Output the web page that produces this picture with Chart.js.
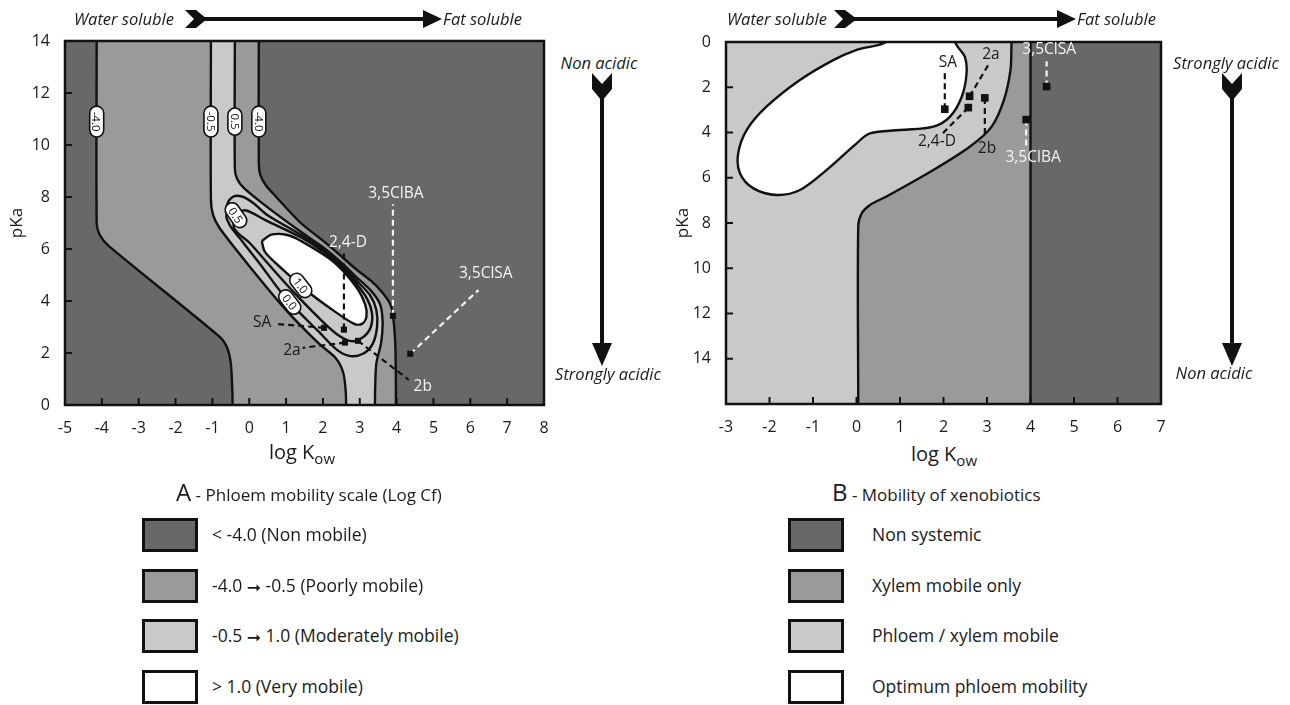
<!DOCTYPE html>
<html lang="en">
<head>
<meta charset="utf-8">
<title>Phloem mobility of xenobiotics</title>
<script src="https://cdn.jsdelivr.net/npm/chart.js@4.4.1/dist/chart.umd.min.js"></script>
<style>
  body { margin: 0; background: #fff; }
  #page { position: relative; width: 1290px; height: 705px; overflow: hidden;
          font-family: 'Open Sans', 'Noto Sans', sans-serif; color: #1a1a1a; }
  canvas, svg { position: absolute; top: 0; }
  .txt { position: absolute; white-space: nowrap; line-height: 1; transform: translateY(-50%); }
  .mid { transform: translate(-50%, -50%); }
  .it { font-style: italic; font-size: 16.5px; }
  .ax { font-size: 20px; }
  .ax sub { font-size: 15px; vertical-align: -5px; line-height: 0; }
  .cap { font-size: 17px; }
  .cap span { font-size: 24px; }
  .key { position: absolute; width: 50px; height: 28px; border: 3px solid #111; }
  .lbl { font-size: 17.5px; }
  .arr { font-family: 'DejaVu Sans', sans-serif; font-size: 17px; font-weight: bold; vertical-align: -1px; }
</style>
</head>
<body>
<div id="page">
  <svg width="1290" height="705" style="left:0">
    <g fill="#111">
      <!-- panel A arrows -->
      <polygon points="185,10 196,10 207,19 196,28 185,28 194,19"/>
      <rect x="200" y="17" width="226" height="4"/>
      <polygon points="423,10 442,19 423,28"/>
      <polygon points="592,73 602,84 612,73 612,89 602,101 592,89"/>
      <rect x="600" y="95" width="4" height="250"/>
      <polygon points="592,343 612,343 602,366"/>
      <!-- panel B arrows -->
      <polygon points="834,10 845,10 857,19 845,28 834,28 843,19"/>
      <rect x="850" y="17" width="210" height="4"/>
      <polygon points="1057,10 1076,19 1057,28"/>
      <polygon points="1222,73 1232,84 1242,73 1242,89 1232,101 1222,89"/>
      <rect x="1230" y="95" width="4" height="250"/>
      <polygon points="1222,343 1242,343 1232,366"/>
    </g>
  </svg>

  <canvas id="chartA" width="560" height="440" style="left:0"></canvas>
  <canvas id="chartB" width="520" height="440" style="left:660px"></canvas>

  <div class="txt it" style="left:74px; top:19px">Water soluble</div>
  <div class="txt it" style="left:443px; top:19px">Fat soluble</div>
  <div class="txt it" style="left:727px; top:19px">Water soluble</div>
  <div class="txt it" style="left:1077px; top:19px">Fat soluble</div>
  <div class="txt it mid" style="left:599px; top:63px">Non acidic</div>
  <div class="txt it mid" style="left:608px; top:374px">Strongly acidic</div>
  <div class="txt it mid" style="left:1226px; top:63px">Strongly acidic</div>
  <div class="txt it mid" style="left:1214px; top:373px">Non acidic</div>

  <div class="txt ax mid" style="left:302px; top:452px">log K<sub>ow</sub></div>
  <div class="txt ax mid" style="left:944px; top:454px">log K<sub>ow</sub></div>

  <div class="txt cap" style="left:176px; top:492px"><span>A</span> - Phloem mobility scale (Log Cf)</div>
  <div class="txt cap" style="left:832px; top:492px"><span>B</span> - Mobility of xenobiotics</div>

  <div id="keysA"></div>
  <div id="keysB"></div>
</div>

<script>
// compounds shown on both panels
const compounds = ['SA', '2,4-D', '2a', '2b', '3,5ClBA', '3,5ClSA'];
const logKow = [2.03, 2.57, 2.6, 2.95, 3.9, 4.37];
const pKa = [2.97, 2.9, 2.4, 2.47, 3.43, 1.97];

// tick labels
const xTicksA = [-5, -4, -3, -2, -1, 0, 1, 2, 3, 4, 5, 6, 7, 8];
const yTicksA = [0, 2, 4, 6, 8, 10, 12, 14];
const xTicksB = [-3, -2, -1, 0, 1, 2, 3, 4, 5, 6, 7];
const yTicksB = [0, 2, 4, 6, 8, 10, 12, 14];

// legend entries (the arrow is marked with |)
const keysA = ['< -4.0 (Non mobile)', '-4.0 | -0.5 (Poorly mobile)',
               '-0.5 |  1.0 (Moderately mobile)', '> 1.0 (Very mobile)'];
const keysB = ['Non systemic', 'Xylem mobile only', 'Phloem / xylem mobile', 'Optimum phloem mobility'];

// panel A contours, [log Kow, pKa]
const cfNeg4Left = [[-4.14, 16], [-4.14, 14], [-4.14, 7.0], [-4.06, 6.55], [-3.8, 6.1], [-0.8, 2.62],
  [-0.6, 2.2], [-0.5, 1.6], [-0.46, 0.6], [-0.45, -0.3], [-0.45, -2]];
const cfNeg4Right = [[0.26, 16], [0.26, 14], [0.26, 9.3], [0.3, 8.85], [0.45, 8.45], [0.7, 8.05],
  [1.4, 7.0], [2.0, 6.32], [2.5, 5.72], [2.9, 5.22], [3.3, 4.78], [3.6, 4.35], [3.82, 3.9],
  [3.9, 3.45], [3.96, 2.5], [3.98, 1.0], [3.98, -0.3], [3.98, -2]];
const cfNeg05Left = [[-1.04, 16], [-1.04, 14], [-1.04, 7.9], [-0.98, 7.3], [-0.8, 6.8], [0.0, 5.35],
  [1.0, 3.65], [1.9, 2.35], [2.35, 1.8], [2.55, 1.25], [2.62, 0.5], [2.63, -0.3], [2.63, -2]];
const cfNeg05Right = [[-0.39, 16], [-0.39, 14], [-0.39, 9.1], [-0.33, 8.7], [-0.15, 8.35], [0.5, 7.6],
  [1.4, 6.66], [2.0, 6.07], [2.5, 5.48], [2.9, 4.93], [3.3, 4.4], [3.55, 3.88], [3.62, 3.2],
  [3.58, 2.4], [3.45, 1.6], [3.42, 0.8], [3.41, -0.3], [3.41, -2]];
const cf00 = [[-0.62, 7.2], [-0.6, 7.7], [-0.45, 8.0], [-0.2, 8.02], [0.1, 7.78], [0.5, 7.3], [1.4, 6.55],
  [2.0, 5.98], [2.5, 5.38], [2.9, 4.8], [3.28, 4.22], [3.45, 3.65], [3.47, 3.0], [3.35, 2.35], [3.1, 1.98],
  [2.75, 1.88], [2.4, 2.1], [1.9, 2.8], [1.0, 4.1], [0.25, 5.5], [-0.25, 6.4], [-0.5, 6.85], [-0.62, 7.2]];
const cf05 = [[-0.42, 6.8], [-0.42, 7.15], [-0.3, 7.4], [-0.08, 7.48], [0.45, 7.1], [1.4, 6.45],
  [2.0, 5.9], [2.5, 5.3], [2.9, 4.68], [3.2, 4.08], [3.33, 3.55], [3.3, 3.0], [3.1, 2.62], [2.8, 2.45],
  [2.45, 2.65], [2.0, 3.2], [1.2, 4.35], [0.5, 5.45], [0.0, 6.25], [-0.3, 6.6], [-0.42, 6.8]];
const cf10 = [[0.34, 6.3], [0.6, 6.55], [1.0, 6.55], [1.38, 6.33], [2.28, 5.52], [2.9, 4.55], [3.15, 3.85],
  [3.18, 3.38], [3.06, 3.12], [2.85, 3.12], [2.3, 3.62], [1.65, 4.3], [0.92, 5.2], [0.43, 5.88], [0.34, 6.3]];

// panel B zone boundaries
const xylemLimit = [[-4, -3], [4, -3], [4, 18], [-4, 18]];
const phloemLimit = [[-4, -3], [3.57, -3], [3.57, -1], [3.56, 0.3], [3.54, 1.24], [3.39, 2.56], [3.107, 3.74],
  [2.61, 4.62], [1.766, 5.66], [0.69, 6.83], [0.31, 7.2], [0.12, 7.57], [0.04, 8.16], [0.04, 16], [0.04, 18], [-4, 18]];
const optimumZone = [[1.2, -1.5], [0.75, -0.08], [0.004, 0.35], [-0.533, 0.8], [-1.3, 1.68], [-2.07, 2.86],
  [-2.525, 3.89], [-2.72, 4.92], [-2.68, 5.8], [-2.37, 6.47], [-1.835, 6.76], [-1.3, 6.54], [-0.69, 5.66],
  [0.004, 4.48], [0.31, 4.04], [1.0, 3.89], [1.77, 3.74], [2.15, 3.3], [2.42, 2.42], [2.53, 1.38],
  [2.49, 0.65], [2.3, 0.13], [1.9, -1.5]];

// contour value tags on panel A: text, log Kow, pKa, rotation
const tagsA = [['-4.0', -4.14, 10.9, 90], ['-0.5', -1.04, 10.9, 90], ['0.5', -0.39, 10.9, 90],
  ['-4.0', 0.26, 10.9, 90], ['0.5', -0.36, 7.3, 55], ['1.0', 1.4, 4.6, 52], ['0.0', 1.1, 3.96, 52]];

// compound name anchors and leader ends
const nameAtA = [[0.35, 3.18], [2.68, 6.25], [1.16, 2.11], [4.71, 0.69], [3.98, 8.13], [6.42, 5.06]];
const leaderToA = [[0.72, 3.12], [2.57, 5.92], [1.45, 2.2], [4.33, 0.97], [3.9, 7.72], [6.22, 4.42]];
const nameAtB = [[2.1, 0.93], [1.85, 4.42], [3.09, 0.57], [3.0, 4.72], [4.06, 5.13], [4.43, 0.35]];
const leaderToB = [[2.03, 1.35], [1.95, 4.1], [3.05, 0.95], [2.95, 4.2], [3.9, 4.75], [4.37, 0.85]];

const DARK = '#686868', MID = '#9a9a9a', LIGHT = '#c9c9c9', WHITE = '#ffffff', INK = '#111111';
const FONT = "'Open Sans', 'Noto Sans', sans-serif";
const whiteLeaders = ['3,5ClBA', '3,5ClSA'];

const toXY = arr => arr.map(([x, y]) => ({ x, y }));

function zone(points, color, tension) {
  return { data: toXY(points), fill: 'shape', backgroundColor: color, borderColor: INK, borderWidth: 2.4, tension };
}
function isoline(points, tension) {
  return { data: toXY(points), fill: false, borderColor: INK, borderWidth: 2.4, tension };
}
function leaderSets(ends) {
  return compounds.map((name, i) => ({
    data: [{ x: logKow[i], y: pKa[i] }, { x: ends[i][0], y: ends[i][1] }],
    fill: false, borderWidth: 2.2, borderDash: [6, 4],
    borderColor: whiteLeaders.includes(name) ? '#f4f4f4' : INK
  }));
}
function compoundSet(r) {
  return {
    data: logKow.map((x, i) => ({ x, y: pKa[i] })),
    showLine: false, pointStyle: 'rect', pointRadius: r,
    pointBackgroundColor: INK, pointBorderWidth: 0
  };
}

function panelPlugin(p) {
  return {
    id: 'panel',
    beforeDatasetsDraw(chart) {
      const { ctx, chartArea: a } = chart;
      ctx.save();
      ctx.fillStyle = DARK;
      ctx.fillRect(a.left, a.top, a.width, a.height);
      ctx.restore();
    },
    afterDatasetsDraw(chart) {
      const { ctx, chartArea: a, scales: { x, y } } = chart;
      ctx.save();
      // tick marks point into the plot
      ctx.strokeStyle = INK;
      ctx.lineWidth = 2;
      p.xTicks.forEach(v => {
        const px = x.getPixelForValue(v);
        if (px <= a.left + 1 || px >= a.right - 1) return;
        ctx.beginPath(); ctx.moveTo(px, a.bottom); ctx.lineTo(px, a.bottom - 7); ctx.stroke();
      });
      p.yTicks.forEach(v => {
        const py = y.getPixelForValue(v);
        if (py <= a.top + 1 || py >= a.bottom - 1) return;
        ctx.beginPath(); ctx.moveTo(a.left, py); ctx.lineTo(a.left + 7, py); ctx.stroke();
      });
      ctx.lineWidth = 2.5;
      ctx.strokeRect(a.left, a.top, a.width, a.height);

      // contour value tags
      ctx.font = '11.5px ' + FONT;
      ctx.textAlign = 'center';
      ctx.textBaseline = 'middle';
      (p.tags || []).forEach(([text, vx, vy, rot]) => {
        ctx.save();
        ctx.translate(x.getPixelForValue(vx), y.getPixelForValue(vy));
        ctx.rotate(rot * Math.PI / 180);
        const w = ctx.measureText(text).width + 11, h = 14;
        ctx.beginPath();
        ctx.roundRect(-w / 2, -h / 2, w, h, h / 2);
        ctx.fillStyle = WHITE; ctx.fill();
        ctx.lineWidth = 1.6; ctx.strokeStyle = INK; ctx.stroke();
        ctx.fillStyle = INK;
        ctx.fillText(text, 0, 1);
        ctx.restore();
      });

      // compound names
      ctx.font = '15.5px ' + FONT;
      compounds.forEach((name, i) => {
        ctx.fillStyle = p.whiteNames.includes(name) ? '#f4f4f4' : '#1a1a1a';
        ctx.fillText(name, x.getPixelForValue(p.nameAt[i][0]), y.getPixelForValue(p.nameAt[i][1]));
      });
      ctx.restore();
    }
  };
}

function buildChart(id, p) {
  const tickFont = { family: FONT, size: 16 };
  return new Chart(document.getElementById(id), {
    type: 'line',
    data: {
      datasets: p.datasets.map((d, i, all) => Object.assign({ order: all.length - i, pointRadius: 0 }, d))
    },
    options: {
      responsive: false,
      animation: false,
      devicePixelRatio: 1,
      events: [],
      layout: { padding: p.padding },
      elements: { line: { capBezierPoints: false } },
      plugins: { legend: { display: false }, tooltip: { enabled: false } },
      scales: {
        x: {
          type: 'linear', min: p.xTicks[0], max: p.xTicks[p.xTicks.length - 1],
          grid: { display: false }, border: { display: false },
          ticks: { font: tickFont, color: '#1a1a1a', padding: 6, autoSkip: false, maxRotation: 0 },
          afterBuildTicks: s => { s.ticks = p.xTicks.map(value => ({ value })); },
          afterFit: s => { s.height = p.xAxisHeight; }
        },
        y: {
          type: 'linear', min: 0, max: p.yMax, reverse: p.reverse,
          grid: { display: false }, border: { display: false },
          ticks: { font: tickFont, color: '#1a1a1a', padding: 7, autoSkip: false },
          title: { display: true, text: 'pKa', color: '#1a1a1a', font: { family: FONT, size: 17 },
                   padding: { top: p.titlePad, bottom: 0 } },
          afterBuildTicks: s => { s.ticks = p.yTicks.map(value => ({ value })); },
          afterFit: s => { s.width = p.yAxisWidth; }
        }
      }
    },
    plugins: [panelPlugin(p)]
  });
}

// panel A: phloem mobility scale
buildChart('chartA', {
  xTicks: xTicksA, yTicks: yTicksA, yMax: 14, reverse: false,
  padding: { left: 0, top: 41, right: 16, bottom: 0 },
  xAxisHeight: 35, yAxisWidth: 65, titlePad: 7,
  tags: tagsA, nameAt: nameAtA, whiteNames: ['2,4-D', '2b', '3,5ClBA', '3,5ClSA'],
  datasets: [
    zone(cfNeg4Left.concat(cfNeg4Right.slice().reverse()), MID, 0.25),
    zone(cfNeg05Left.concat(cfNeg05Right.slice().reverse()), LIGHT, 0.25),
    isoline(cf00, 0.3),
    isoline(cf05, 0.3),
    zone(cf10, WHITE, 0.3),
    ...leaderSets(leaderToA),
    compoundSet(4.3)
  ]
});

// panel B: mobility of xenobiotics
buildChart('chartB', {
  xTicks: xTicksB, yTicks: yTicksB, yMax: 16, reverse: true,
  padding: { left: 0, top: 42, right: 19, bottom: 0 },
  xAxisHeight: 36, yAxisWidth: 66, titlePad: 13,
  nameAt: nameAtB, whiteNames: ['3,5ClBA', '3,5ClSA'],
  datasets: [
    zone(xylemLimit, MID, 0),
    zone(phloemLimit, LIGHT, 0.3),
    zone(optimumZone, WHITE, 0.35),
    ...leaderSets(leaderToB),
    compoundSet(5.4)
  ]
});

// legend boxes
function buildKeys(holder, labels, boxLeft, textLeft) {
  const colors = [DARK, MID, LIGHT, WHITE];
  const el = document.getElementById(holder);
  labels.forEach((text, i) => {
    const top = 518 + i * 50.5;
    const box = document.createElement('div');
    box.className = 'key';
    box.style.left = boxLeft + 'px';
    box.style.top = top + 'px';
    box.style.background = colors[i];
    el.appendChild(box);
    const t = document.createElement('div');
    t.className = 'txt lbl';
    t.style.left = textLeft + 'px';
    t.style.top = (top + 17) + 'px';
    text.split('|').forEach((part, k) => {
      if (k > 0) {
        const a = document.createElement('span');
        a.className = 'arr';
        a.textContent = '\u279E';
        t.appendChild(a);
      }
      t.appendChild(document.createTextNode(part));
    });
    el.appendChild(t);
  });
}
buildKeys('keysA', keysA, 142, 212);
buildKeys('keysB', keysB, 788, 872);
</script>
</body>
</html>
